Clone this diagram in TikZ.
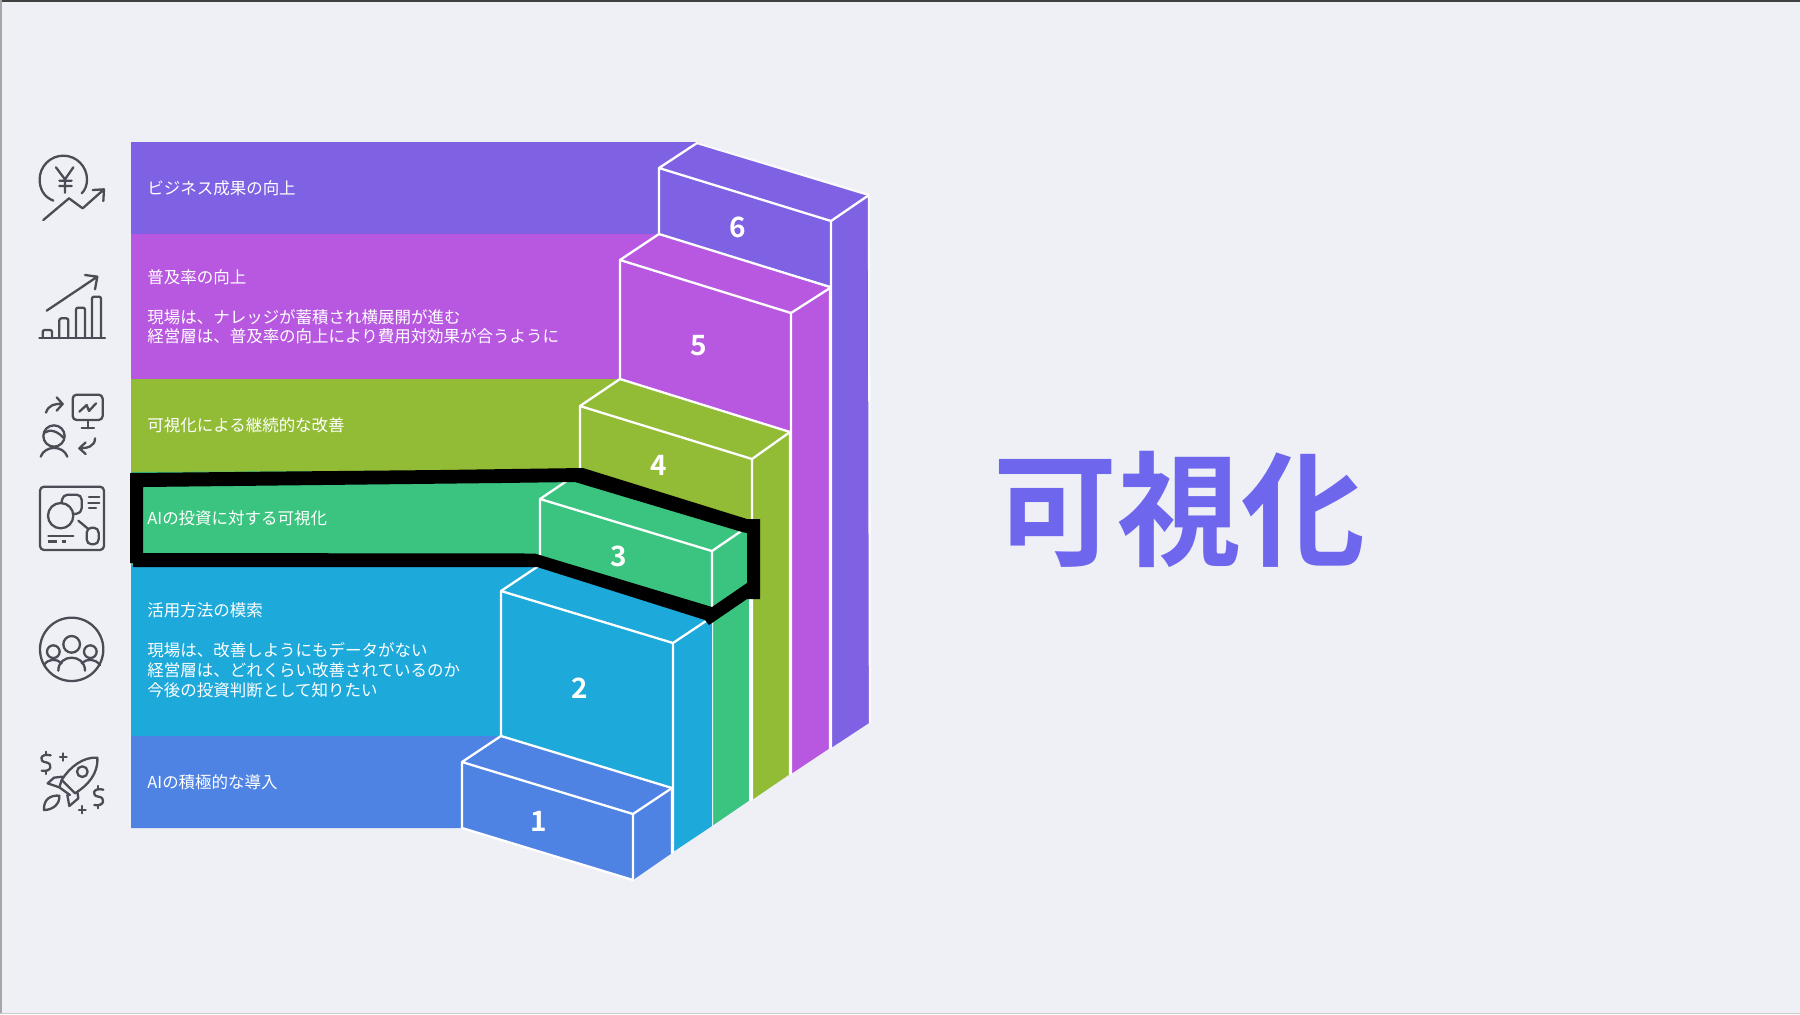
\documentclass[tikz,border=0pt]{standalone}
\usepackage{fontspec}
\setmainfont{Noto Sans CJK JP}
\newfontfamily\titlefont{Noto Sans CJK JP Bold}
\definecolor{bgc}{HTML}{EEF0F6}
\definecolor{cvi}{HTML}{7E62E3}
\definecolor{cma}{HTML}{B858E0}
\definecolor{cgr}{HTML}{92BB36}
\definecolor{cte}{HTML}{3BC480}
\definecolor{cbl}{HTML}{1DA9DA}
\definecolor{cpe}{HTML}{4F83E3}
\definecolor{ctitle}{HTML}{6F66EE}
\definecolor{cicon}{HTML}{4A4D55}
\tikzset{
  edge/.style={draw=white,line width=1.15pt,line cap=round,line join=round},
  lab/.style={anchor=west,text=white,font=\fontsize{8.24}{10}\selectfont,inner sep=0pt},
  num/.style={text=white,font=\titlefont\fontsize{14}{14}\selectfont,inner sep=0pt},
  ico/.style={draw=cicon,line width=1.15pt,line cap=round,line join=round,fill=none},
  icoscope/.style={scale=0.33333},
}
\begin{document}
\begin{tikzpicture}[x=0.5pt,y=-0.5pt]
\useasboundingbox (0,0) rectangle (1800,1014);
\fill[bgc] (0,0) rectangle (1800,1014);
\fill[black!75] (0,0) rectangle (1800,1.5);
\fill[black!35] (0,0) rectangle (1.5,1014);
\fill[black!20] (0,1012.5) rectangle (1800,1014);

% level 6
\fill[cvi] (131,142) -- (697,142) -- (869,195) -- (869,723) -- (831,748) -- (831,286) -- (659,234) -- (131,234) -- cycle;
\draw[edge,draw=white!70!bgc] (697,143) -- (869,195) -- (870,723);
\draw[edge] (659,234) -- (659,168) -- (697,143) (659,168) -- (831,221) -- (869,195) (831,221) -- (831,748);
% level 5
\fill[cma] (131,234) -- (659,234) -- (830,288) -- (830,748) -- (791,774) -- (791,432) -- (620,379) -- (131,379) -- cycle;
\draw[edge] (659,234) -- (830,287) -- (830,748);
\draw[edge] (620,379) -- (620,260) -- (659,234) (620,260) -- (791,313) -- (830,288) (791,313) -- (791,774);
% level 4
\fill[cgr] (131,379) -- (620,379) -- (790,432) -- (790,774) -- (752,800) -- (752,525) -- (580,472) -- (131,472) -- cycle;
\draw[edge] (620,379) -- (790,432) -- (790,774);
\draw[edge] (580,472) -- (580,406) -- (620,379) (580,406) -- (752,459) -- (790,432) (752,459) -- (752,800);
% level 3
\fill[cte] (131,472) -- (580,470) -- (750,525) -- (750,800) -- (712,826) -- (712,617) -- (540,565) -- (131,565) -- cycle;
\draw[edge] (750,525) -- (750,800);
\draw[edge] (540,565) -- (540,499) -- (580,472) (540,499) -- (712,551) -- (750,525) (712,551) -- (712,826);
% level 2
\fill[cbl] (131,565) -- (540,565) -- (712,617) -- (712,826) -- (673,852) -- (673,788) -- (501,736) -- (131,736) -- cycle;
\draw[edge] (540,565) -- (712,617);
\draw[edge] (501,736) -- (501,591) -- (540,565) (501,591) -- (673,643) -- (712,617) (673,643) -- (673,852);
% level 1
\fill[cpe] (131,736) -- (501,736) -- (672,788) -- (672,853) -- (633,880) -- (462,828) -- (131,828) -- cycle;
\draw[edge] (501,736) -- (672,788) -- (672,853);
\draw[edge] (462,828) -- (462,762) -- (501,736) (462,762) -- (633,814) -- (672,788) (633,814) -- (633,880);
\draw[edge] (462,828) -- (633,880);

% highlight frame
\fill[black,even odd rule]
  (130,473) -- (440,470) -- (583,468) -- (747,519) -- (760,519) -- (760,599) -- (747,599) -- (709,625) -- (705,620) -- (537,567) -- (133,567) -- (133,563) -- (130,563) -- cycle
  (143,487) -- (500,483) -- (575,482) -- (742,532) -- (747,533) -- (747,583) -- (712,607) -- (543,556) -- (535,553.5) -- (143,553) -- cycle;

% numbers
\node[num] (n6) at (738,227) {6};
\node[num] (n5) at (699,346) {5};
\node[num] (n4) at (659,465) {4};
\node[num] (n3) at (619,556) {3};
\node[num] (n2) at (580,688) {2};
\node[num] (n1) at (539,821) {1};

% labels
\node[lab] (t6) at (147,188) {ビジネス成果の向上};
\node[lab] (t5) at (147,277) {普及率の向上};
\node[lab] (t5a) at (147,317) {現場は、ナレッジが蓄積され横展開が進む};
\node[lab] (t5b) at (147,336.5) {経営層は、普及率の向上により費用対効果が合うように};
\node[lab] (t4) at (147,425.5) {可視化による継続的な改善};
\node[lab] (t3) at (147,518) {AIの投資に対する可視化};
\node[lab] (t2) at (147,610.5) {活用方法の模索};
\node[lab] (t2a) at (147,650) {現場は、改善しようにもデータがない};
\node[lab] (t2b) at (147,670) {経営層は、どれくらい改善されているのか};
\node[lab] (t2c) at (147,690) {今後の投資判断として知りたい};
\node[lab] (t1) at (147,782) {AIの積極的な導入};

% title
\node[text=ctitle,font=\titlefont\fontsize{62}{62}\selectfont,inner sep=0pt] (title) at (1179,509) {可視化};

% icon 1: yen and trend
\begin{scope}[shift={(20,140)},icoscope]
\draw[ico] (100,182) .. controls (70,170) and (59,145) .. (59,118) .. controls (59,80) and (90,47) .. (130,47) .. controls (170,47) and (201,80) .. (201,118) .. controls (201,135) and (196,150) .. (185,160);
\draw[ico] (108,82) -- (135,118) -- (160,82) (135,118) -- (135,158) (118,122) -- (155,122) (118,138) -- (155,138);
\draw[ico] (70,240) -- (147,175) -- (188,205) -- (252,148) (218,150) -- (252,148) -- (250,183);
\end{scope}
% icon 2: bars
\begin{scope}[shift={(20,260)},icoscope]
\draw[ico] (58,234) -- (255,234);
\draw[ico,rounded corners=1pt] (68,234) -- (68,210) -- (96,210) -- (96,234);
\draw[ico,rounded corners=1pt] (118,234) -- (118,175) -- (145,175) -- (145,234);
\draw[ico,rounded corners=1pt] (168,234) -- (168,143) -- (195,143) -- (195,234);
\draw[ico,rounded corners=1pt] (216,234) -- (216,110) -- (243,110) -- (243,234);
\draw[ico] (80,152) -- (232,50) (195,45) -- (232,50) -- (225,88);
\end{scope}
% icon 3: person and monitor
\begin{scope}[shift={(20,380)},icoscope]
\draw[ico,rounded corners=2pt] (158,44) rectangle (248,120);
\draw[ico] (203,120) -- (203,145) (185,145) -- (222,145);
\draw[ico] (178,95) -- (200,75) -- (207,93) -- (228,70);
\draw[ico] (78,98) .. controls (85,75) and (105,70) .. (128,72) (110,52) -- (128,72) -- (110,92);
\draw[ico] (102,168) circle[radius=32];
\draw[ico] (74,158) .. controls (90,145) and (115,155) .. (132,175);
\draw[ico] (62,230) .. controls (75,195) and (130,195) .. (142,230);
\draw[ico] (225,175) .. controls (225,200) and (200,205) .. (178,205) (197,187) -- (178,205) -- (197,222);
\end{scope}
% icon 4: board
\begin{scope}[shift={(20,480)},icoscope]
\draw[ico,rounded corners=2pt] (60,20) rectangle (252,210);
\draw[ico] (122,107) circle[radius=38];
\draw[ico,rounded corners=2.5pt] (125,68) -- (128,44) -- (185,44) -- (185,100) -- (160,102);
\draw[ico] (207,52) -- (238,52) (205,68) -- (238,68) (207,85) -- (228,85);
\draw[ico] (175,122) -- (205,147);
\draw[ico,rounded corners=2.5pt] (200,143) rectangle (236,193);
\draw[ico] (85,168) -- (160,168);
\draw[ico,line width=1.6pt,line cap=butt] (85,185) -- (112,185) (125,185) -- (138,185);
\end{scope}
% icon 5: people
\begin{scope}[shift={(20,600)},icoscope]
\draw[ico] (155,148) circle[radius=95];
\draw[ico] (155,133) circle[radius=25];
\draw[ico] (100,155) circle[radius=19];
\draw[ico] (211,155) circle[radius=19];
\draw[ico] (115,212) .. controls (115,160) and (195,160) .. (195,212);
\draw[ico] (72,195) .. controls (85,175) and (110,175) .. (125,190);
\draw[ico] (185,190) .. controls (200,175) and (225,175) .. (240,195);
\end{scope}
% icon 6: rocket
\begin{scope}[shift={(20,730)},icoscope]
\draw[ico] (92,76) .. controls (60,68) and (55,95) .. (78,97) .. controls (100,100) and (95,128) .. (65,122);
\draw[ico] (77,65) -- (77,75) (77,122) -- (77,132);
\draw[ico] (130,70) -- (130,92) (120,81) -- (140,81);
\draw[ico] (232,83) .. controls (190,80) and (150,110) .. (125,150) -- (165,190) .. controls (205,165) and (235,130) .. (232,83) -- cycle;
\draw[ico] (187,125) circle[radius=16];
\draw[ico] (127,140) -- (102,143) -- (83,160) -- (118,172) -- (150,195);
\draw[ico] (118,172) -- (125,150);
\draw[ico] (142,195) -- (148,228) -- (175,205) -- (172,185);
\draw[ico] (72,240) .. controls (70,205) and (95,195) .. (118,197) .. controls (120,225) and (95,240) .. (72,240) -- cycle;
\draw[ico] (250,179) .. controls (218,171) and (213,198) .. (236,200) .. controls (258,203) and (253,231) .. (223,225);
\draw[ico] (235,168) -- (235,178) (235,225) -- (235,235);
\draw[ico] (187,228) -- (187,250) (177,239) -- (197,239);
\end{scope}
\end{tikzpicture}
\end{document}
